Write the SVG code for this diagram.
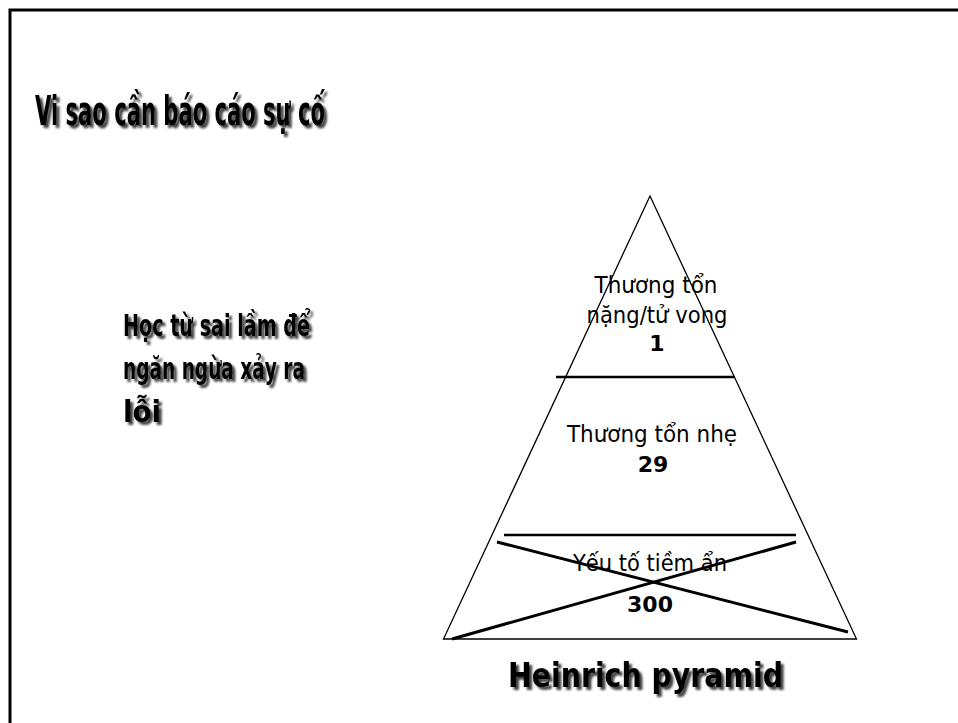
<svg xmlns="http://www.w3.org/2000/svg" width="958" height="723" viewBox="0 0 958 723">
  <style>
    .frame { fill: none; stroke: #000; stroke-width: 3; }
    .edge { fill: none; stroke: #000; stroke-width: 1.3; }
    .thick { stroke: #000; stroke-width: 3; stroke-linecap: butt; }
    .bar { stroke: #000; stroke-width: 2.5; }
    .lbl { font-family: "DejaVu Sans", Verdana, sans-serif; font-size: 23px; fill: #000; text-anchor: middle; }
    .num { font-family: "DejaVu Sans", Verdana, sans-serif; font-size: 22px; font-weight: bold; fill: #000; text-anchor: middle; }
    .head { font-family: "DejaVu Sans", Verdana, sans-serif; font-weight: bold; fill: #000; filter: url(#shadow); }
  </style>
  <defs>
    <filter id="shadow" x="-10%" y="-20%" width="120%" height="150%">
      <feGaussianBlur in="SourceAlpha" stdDeviation="1.2" result="b"/>
      <feOffset in="b" dx="2.5" dy="2.5" result="o"/>
      <feComponentTransfer in="o" result="s">
        <feFuncA type="linear" slope="0.75"/>
      </feComponentTransfer>
      <feMerge>
        <feMergeNode in="s"/>
        <feMergeNode in="SourceGraphic"/>
      </feMerge>
    </filter>
  </defs>
  <rect width="958" height="723" fill="#fff"/>
  <rect class="frame" x="10" y="10" width="960" height="730"/>

  <g id="title">
    <text class="head" x="35" y="125" font-size="41" textLength="290" lengthAdjust="spacingAndGlyphs">Vi sao cần báo cáo sự cố</text>
  </g>

  <g id="lesson">
    <text class="head" x="123" y="336" font-size="31" textLength="187" lengthAdjust="spacingAndGlyphs">Học từ sai lầm để</text>
    <text class="head" x="123" y="379" font-size="31" textLength="182" lengthAdjust="spacingAndGlyphs">ngăn ngừa xảy ra</text>
    <text class="head" x="123" y="422" font-size="31" textLength="38" lengthAdjust="spacingAndGlyphs">lỗi</text>
  </g>

  <g id="pyramid">
    <polygon class="edge" points="650,196 443.5,639 856.5,639"/>
  </g>

  <g id="connectors">
    <line class="bar" x1="556" y1="377" x2="734" y2="377"/>
    <line class="bar" x1="504" y1="535" x2="796" y2="535"/>
    <line class="thick" x1="497" y1="542" x2="848" y2="632"/>
    <line class="thick" x1="452" y1="639" x2="796" y2="542"/>
  </g>

  <g id="tier-top">
    <text class="lbl" x="656" y="293" textLength="123" lengthAdjust="spacingAndGlyphs">Thương tổn</text>
    <text class="lbl" x="657" y="323" textLength="141" lengthAdjust="spacingAndGlyphs">nặng/tử vong</text>
    <text class="num" x="657" y="351">1</text>
  </g>

  <g id="tier-middle">
    <text class="lbl" x="652" y="442" textLength="170" lengthAdjust="spacingAndGlyphs">Thương tổn nhẹ</text>
    <text class="num" x="653" y="472">29</text>
  </g>

  <g id="tier-bottom">
    <text class="lbl" x="650" y="571" textLength="154" lengthAdjust="spacingAndGlyphs">Yếu tố tiềm ẩn</text>
    <text class="num" x="650" y="612">300</text>
  </g>

  <g id="caption">
    <text class="head" x="508" y="687" font-size="33" textLength="275" lengthAdjust="spacingAndGlyphs">Heinrich pyramid</text>
  </g>
</svg>
